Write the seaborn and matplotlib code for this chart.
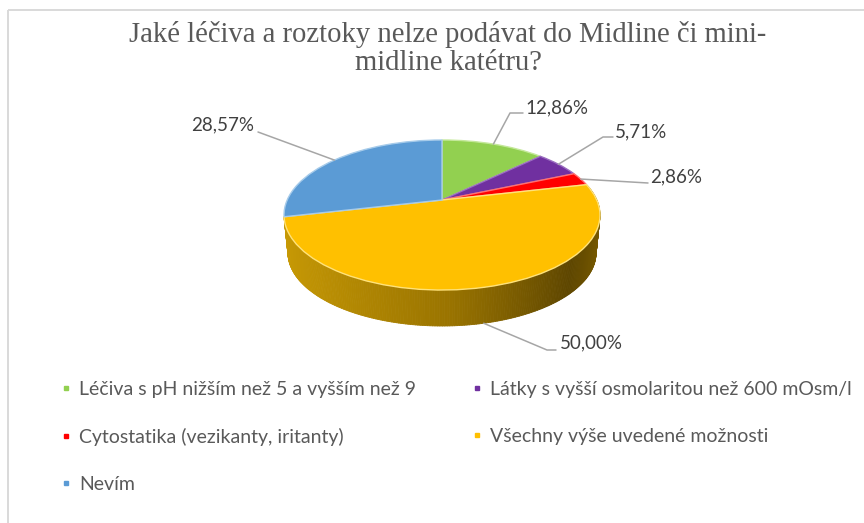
import numpy as np
import matplotlib
matplotlib.use("Agg")
import matplotlib.pyplot as plt
from matplotlib.collections import PolyCollection
from matplotlib.colors import LinearSegmentedColormap
from matplotlib.lines import Line2D
from matplotlib.patches import Rectangle
from matplotlib.transforms import Transform
import seaborn as sns

TITLE = "Jaké léčiva a roztoky nelze podávat do Midline či mini-\nmidline katétru?"
categories = [
    "Léčiva s pH nižším než 5 a vyšším než 9",
    "Látky s vyšší osmolaritou než 600 mOsm/l",
    "Cytostatika (vezikanty, iritanty)",
    "Všechny výše uvedené možnosti",
    "Nevím",
]
values = [12.86, 5.71, 2.86, 50.00, 28.57]
slice_colors = ["#92D050", "#7030A0", "#FF0000", "#FFC000", "#5B9BD5"]
rim_colors = ["#C4E89A", "#9A6CC0", "#FF7070", "#FFE27A", "#A6CBEA"]

sns.set_theme(style="white")
plt.rcParams["font.family"] = ["Lato", "DejaVu Sans"]
palette = sns.color_palette(slice_colors)

# Perspective of the tilted disc, expressed in figure pixels
CX, CY = 442.0, 200.0
BX, BY, K = 154.8, 72.0, 0.2
DEPTH_SCALE, DEPTH_SHIFT = 0.975, 38.25


def project(u, v, lower=False):
    w = 1 + K * v
    x = BX * u / w
    y = -BY * v / w
    if lower:
        return CX + DEPTH_SCALE * x, CY + DEPTH_SHIFT + DEPTH_SCALE * y
    return CX + x, CY + y


def rim(fraction, lower=False):
    angle = 2 * np.pi * np.asarray(fraction)
    return project(np.sin(angle), np.cos(angle), lower)


class DiscProjection(Transform):
    input_dims = 2
    output_dims = 2
    is_separable = False
    has_inverse = False

    def transform_non_affine(self, points):
        points = np.asarray(points, dtype=float)
        x, y = project(points[:, 0], points[:, 1])
        return np.column_stack([x, y])


fig = plt.figure(figsize=(8.64, 5.23), dpi=100, facecolor="white")
ax = fig.add_axes([0, 0, 1, 1])

wedges, _ = ax.pie(
    values, colors=palette, startangle=90, counterclock=False, radius=1.0,
    wedgeprops={"linewidth": 1.0},
)
ax.set_aspect("auto")
ax.set_xlim(0, 864)
ax.set_ylim(523, 0)
ax.axis("off")

projection = DiscProjection() + ax.transData
for wedge, edge in zip(wedges, rim_colors):
    wedge.set_transform(projection)
    wedge.set_edgecolor(edge)
    wedge.set_zorder(3)
    wedge.set_clip_on(False)

# Side wall of the disc: only the large slice faces the viewer
fractions = np.cumsum(values) / np.sum(values)
wall = np.linspace(fractions[2], fractions[3], 241)
top_x, top_y = rim(wall)
low_x, low_y = rim(wall, lower=True)
quads = [
    [(top_x[i], top_y[i]), (top_x[i + 1], top_y[i + 1]),
     (low_x[i + 1], low_y[i + 1]), (low_x[i], low_y[i])]
    for i in range(len(wall) - 1)
]
wall_cmap = LinearSegmentedColormap.from_list(
    "wall",
    [(0.0, "#C89A05"), (0.16, "#BC9003"), (0.52, "#9A7400"),
     (0.86, "#5E4600"), (1.0, "#7A5C00")],
)
shade = wall_cmap((np.sin(2 * np.pi * wall[:-1]) + 1) / 2)
ax.add_collection(PolyCollection(quads, facecolors=shade, edgecolors=shade,
                                 linewidths=0.6, zorder=2))

# Value labels with leader lines that start on the rim of each slice
starts = np.concatenate([[0], fractions[:-1]])
mids = (starts + fractions) / 2
elbows = [(510, 113), (603, 137), (648, 183), (547, 350), (258, 132)]
ends = [(523, 113), (613, 137), (648, 183), (556, 350), (258, 132)]
text_at = [(525, 108), (615, 132), (650, 177), (560, 343), (191, 125)]
for i, (value, mid) in enumerate(zip(values, mids)):
    x0, y0 = rim(mid, lower=(i == 3))
    ax.plot([x0, elbows[i][0], ends[i][0]], [y0, elbows[i][1], ends[i][1]],
            color="#A6A6A6", lw=1.1, zorder=4)
    ax.text(text_at[i][0], text_at[i][1], f"{value:.2f}%".replace(".", ","),
            fontsize=13.5, color="#404040", ha="left", va="center", zorder=5)

ax.text(448, 48, TITLE, family="Liberation Serif", fontsize=20.6, color="#595959",
        ha="center", va="center", linespacing=1.1)

# Legend filled column by column: three rows on the left, two on the right
order = [0, 2, 4, 1, 3]
handles = [
    Line2D([], [], linestyle="none", marker="s", markersize=3.4,
           color=slice_colors[i], label=categories[i])
    for i in order
]
ax.legend(
    handles=handles, ncol=2, loc="upper left", bbox_to_anchor=(61 / 864, 1 - 380.5 / 523),
    frameon=False, fontsize=14.0, labelcolor="#595959", labelspacing=1.55,
    handlelength=0.55, handletextpad=0.4, columnspacing=2.85, borderpad=0, borderaxespad=0,
)

# Thin chart-area frame
ax.add_patch(Rectangle((8, 10), 900, 600, fill=False, edgecolor="#D9D9D9", lw=1.4, zorder=1))

fig.savefig("out.png", dpi=100, facecolor="white")
